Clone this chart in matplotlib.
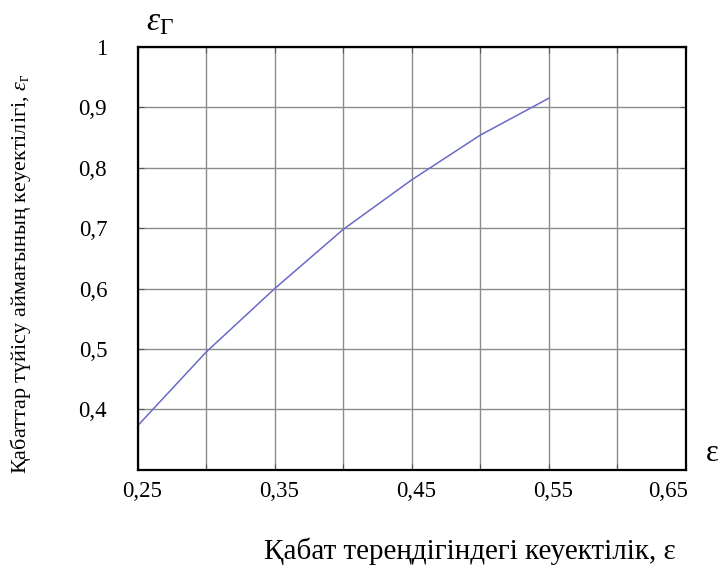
import matplotlib
matplotlib.use('Agg')
import matplotlib.pyplot as plt
from matplotlib.transforms import ScaledTranslation

plt.rcParams['font.family'] = ['Liberation Serif', 'DejaVu Serif']
plt.rcParams['mathtext.fontset'] = 'custom'
plt.rcParams['mathtext.rm'] = 'Liberation Serif'
plt.rcParams['mathtext.it'] = 'Liberation Serif:italic'

# Porosity at depth vs. porosity of the layer contact zone
eps = [0.25, 0.30, 0.35, 0.40, 0.45, 0.50, 0.55]
eps_g = [0.373, 0.495, 0.600, 0.698, 0.780, 0.854, 0.915]

x_ticks = [0.25, 0.30, 0.35, 0.40, 0.45, 0.50, 0.55, 0.60, 0.65]
x_labels = ['0,25', '', '0,35', '', '0,45', '', '0,55', '', '0,65']
y_ticks = [0.4, 0.5, 0.6, 0.7, 0.8, 0.9, 1.0]
y_labels = ['0,4', '0,5', '0,6', '0,7', '0,8', '0,9', '1']

fig = plt.figure(figsize=(7.21, 5.66), dpi=100)
ax = fig.add_axes([0.191, 0.170, 0.760, 0.747])

ax.plot(eps, eps_g, color='#6a6ac8', lw=1.1)

ax.set_xlim(0.25, 0.65)
ax.set_ylim(0.3, 1.0)
ax.set_xticks(x_ticks)
ax.set_xticklabels(x_labels, fontsize=16.5)
ax.set_yticks(y_ticks)
ax.set_yticklabels(y_labels, fontsize=16.5)

ax.tick_params(direction='in', length=4, top=True, right=True, color='#555555')
ax.tick_params(axis='x', pad=8)
ax.tick_params(axis='y', pad=22)

# nudge x tick labels slightly right, keep the last one inside the frame
shift = ScaledTranslation(4 / 100, 0, fig.dpi_scale_trans)
for lab in ax.get_xticklabels()[:-1]:
    lab.set_transform(lab.get_transform() + shift)
last = ax.get_xticklabels()[-1]
last.set_horizontalalignment('right')
last.set_transform(last.get_transform() + ScaledTranslation(2 / 100, 0, fig.dpi_scale_trans))

ax.grid(True, color='#8c8c8c', lw=1.0)
for s in ax.spines.values():
    s.set_linewidth(1.6)
    s.set_color('black')

fig.text(0.028, 0.516, 'Қабаттар түйісу аймағының кеуектілігі, $\\varepsilon_\\mathrm{г}$',
         rotation=90, ha='center', va='center', fontsize=16)
fig.text(0.652, 0.013, 'Қабат тереңдігіндегі кеуектілік, ε',
         ha='center', va='baseline', fontsize=21)
fig.text(0.203, 0.962, '$\\mathit{\\varepsilon}_{\\Gamma}$',
         ha='left', va='center', fontsize=24)
fig.text(0.988, 0.198, 'ε', ha='center', va='center', fontsize=22)

fig.savefig('out.png', dpi=100)
